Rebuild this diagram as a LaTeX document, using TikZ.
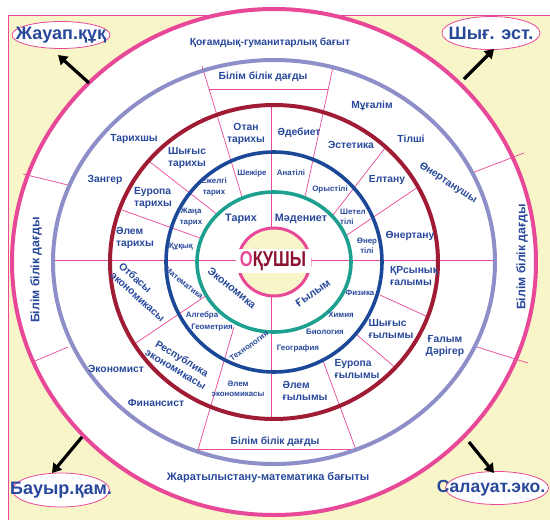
\documentclass[tikz,border=0pt]{standalone}
\usepackage{fontspec}
\setmainfont{Liberation Sans}
\usepackage{graphicx}
\usetikzlibrary{arrows.meta, shapes.geometric}

\definecolor{rpink}{RGB}{232,72,152}
\definecolor{rlav}{RGB}{142,143,200}
\definecolor{rred}{RGB}{160,28,52}
\definecolor{rblue}{RGB}{28,72,152}
\definecolor{rteal}{RGB}{30,160,145}
\definecolor{pale}{RGB}{248,245,200}
\definecolor{tblue}{RGB}{40,72,155}
\definecolor{maroon}{RGB}{140,16,48}

\begin{document}
\begin{tikzpicture}[x=1pt, y=-1pt,
	ring/.style={line width=4pt},
	sep/.style={draw=rpink, line width=0.7pt},
	lbl/.style={text=tblue, font=\bfseries\fontsize{10.3}{12.5}\selectfont, align=center, inner sep=0pt},
	small/.style={lbl, font=\bfseries\fontsize{7.9}{10.5}\selectfont},
	mid/.style={lbl, font=\bfseries\fontsize{10.8}{12}\selectfont},
	side/.style={lbl, font=\bfseries\fontsize{12.3}{14}\selectfont, rotate=90},
	corner/.style={ellipse, draw=rpink, line width=0.8pt, fill=white, inner sep=0pt},
	cornertext/.style={text=tblue, font=\bfseries\fontsize{18}{20}\selectfont},
	arr/.style={-{Triangle[length=9pt, width=11pt]}, line width=3.2pt}]
	\useasboundingbox (0,0) rectangle (550,520);
	\draw[rpink, line width=0.6pt, fill=pale] (8,15) rectangle (560,530);

	\coordinate (c) at (274,262);
	\draw[ring, draw=rpink, fill=white] (c) ellipse [x radius=262pt, y radius=253pt];

	\draw[sep] (51,260) -- (493,260);
	\draw[sep] (271,107) -- (271,420);
	\draw[sep] (202,66) -- (242,197);
	\draw[sep] (333,67) -- (305,197);
	\draw[sep] (209,89) -- (328,89);
	\draw[sep] (197,453) -- (234,327);
	\draw[sep] (356,450) -- (322,358);
	\draw[sep] (197,449) -- (356,449);
	\draw[sep] (150,162) -- (218,215);
	\draw[sep] (122,210) -- (200,238);
	\draw[sep] (133,345) -- (207,295);
	\draw[sep] (385,148) -- (333,215);
	\draw[sep] (418,187) -- (344,237);
	\draw[sep] (380,295) -- (428,317);
	\draw[sep] (357,335) -- (397,369);
	\draw[sep] (23,174) -- (68,185);
	\draw[sep] (35,361) -- (68,347);
	\draw[sep] (472,173) -- (524,153);
	\draw[sep] (477,347) -- (528,363);

	\draw[ring, draw=rlav] (c) ellipse [x radius=221pt, y radius=202pt];
	\draw[ring, draw=rred] (c) ellipse [x radius=164pt, y radius=157pt];
	\draw[ring, draw=rblue, line width=3.6pt] (c) ellipse [x radius=108pt, y radius=110pt];
	\draw[ring, draw=rteal, line width=3.6pt] (c) ellipse [x radius=77pt, y radius=70pt];
	\draw[rpink, line width=3pt, fill=pale] (c) ellipse [x radius=36pt, y radius=34pt];

	\node[fill=white, minimum width=75pt, minimum height=24pt, inner sep=0pt,
		font=\bfseries\fontsize{21.5}{21.5}\selectfont] (pupil) at (273,261)
		{\scalebox{0.77}[1]{\textcolor{rpink}{О}\textcolor{maroon}{ҚУШЫ}}};

	\node[lbl] (qogam) at (270,43) {Қоғамдық-гуманитарлық бағыт};
	\node[lbl, font=\bfseries\fontsize{11}{13}\selectfont] (jarat) at (268,478) {Жаратылыстану-математика бағыты};
	\node[side] (bbdl) at (36,270) {Білім білік дағды};
	\node[side] (bbdr) at (522,257) {Білім білік дағды};

	\node[lbl] (bbdt) at (263,77) {Білім білік дағды};
	\node[lbl] (bbdb) at (275,442) {Білім білік дағды};
	\node[lbl] (teacher) at (372,106) {Мұғалім};
	\node[lbl] (tilshi) at (411,139) {Тілші};
	\node[lbl, rotate=-33] (onertanushy) at (448,183) {Өнертанушы};
	\node[lbl] (tarihshy) at (134,139) {Тарихшы};
	\node[lbl] (zanger) at (105,180) {Зангер};
	\node[lbl] (economist) at (116,369) {Экономист};
	\node[lbl] (finansist) at (156,403) {Финансист};
	\node[lbl] (galym) at (445,346) {Ғалым\\Дәрігер};

	\node[lbl] (otan) at (246,134) {Отан\\тарихы};
	\node[lbl] (adebiet) at (299,133) {Әдебиет};
	\node[lbl] (estetika) at (351,145) {Эстетика};
	\node[lbl] (eltanu) at (387,180) {Елтану};
	\node[lbl] (onertanu) at (410,236) {Өнертану};
	\node[lbl, align=left] (qrsyn) at (414,276) {ҚРсынық\\ғалымы};
	\node[lbl, align=left] (shygys) at (391,329) {Шығыс\\ғылымы};
	\node[lbl, align=left] (europa) at (357,369) {Еуропа\\ғылымы};
	\node[lbl, align=left] (alemg) at (305,391) {Әлем\\ғылымы};
	\node[small] (aleme) at (238,389) {Әлем\\экономикасы};
	\node[lbl, rotate=-31] (respublika) at (179,364) {Республика\\экономикасы};
	\node[lbl, rotate=-42, align=left] (otbasy) at (142,292) {Отбасы\\экономикасы};
	\node[lbl, align=left] (alemt) at (135,238) {Әлем\\тарихы};
	\node[lbl, align=left] (europat) at (153,198) {Еуропа\\тарихы};
	\node[lbl, align=left] (shygyst) at (187,158) {Шығыс\\тарихы};

	\node[small] (shejire) at (252,173) {Шежіре};
	\node[small] (anatili) at (291,173) {Анатілі};
	\node[small] (orys) at (330,189) {Орыстілі};
	\node[small, align=left] (shetel) at (353,217) {Шетел\\тілі};
	\node[small] (onertili) at (367,246) {Өнер\\тілі};
	\node[small] (fizika) at (360,293) {Физика};
	\node[small] (himiya) at (341,315) {Химия};
	\node[small] (biologiya) at (325,332) {Биология};
	\node[small] (geografiya) at (298,348) {География};
	\node[small, rotate=35] (tehnologiya) at (249,346) {Технология};
	\node[small] (geometriya) at (212,328) {Геометрия};
	\node[small] (algebra) at (202,315) {Алгебра};
	\node[small, rotate=-38] (matematika) at (184,283) {Математика};
	\node[small] (quqyq) at (181,247) {Құқық};
	\node[small] (jana) at (191,217) {Жаңа\\тарих};
	\node[small] (ejelgi) at (214,187) {Ежелгі\\тарих};

	\node[mid] (tarih) at (241,219) {Тарих};
	\node[mid] (madeniet) at (301,219) {Мәдениет};
	\node[mid, rotate=-39] (ekonomika) at (232,288) {Экономика};
	\node[mid, rotate=35] (gylym) at (313,293) {Ғылым};

	\node[corner, minimum width=98pt, minimum height=27pt,
		label={[cornertext]center:Жауап.құқ}] (jauap) at (61,35) {};
	\node[corner, minimum width=98pt, minimum height=33pt,
		label={[cornertext]center:Шығ. эст.}] (shyg) at (491,33) {};
	\node[corner, minimum width=97pt, minimum height=34pt,
		label={[cornertext]center:Бауыр.қам.}] (bauyr) at (61,490) {};
	\node[corner, minimum width=103pt, minimum height=33pt,
		label={[cornertext, xshift=-6pt, font=\bfseries\fontsize{17.5}{20}\selectfont]center:Салауат.эко.}] (salauat) at (497,488) {};

	\coordinate (tlfrom) at (89,83);
	\coordinate (tlto) at (58,55);
	\coordinate (trfrom) at (464,79);
	\coordinate (trto) at (494,49);
	\coordinate (blfrom) at (82,437);
	\coordinate (blto) at (52,473);
	\coordinate (brfrom) at (469,442);
	\coordinate (brto) at (494,473);
	\draw[arr] (tlfrom) -- (tlto);
	\draw[arr] (trfrom) -- (trto);
	\draw[arr] (blfrom) -- (blto);
	\draw[arr] (brfrom) -- (brto);
\end{tikzpicture}
\end{document}
